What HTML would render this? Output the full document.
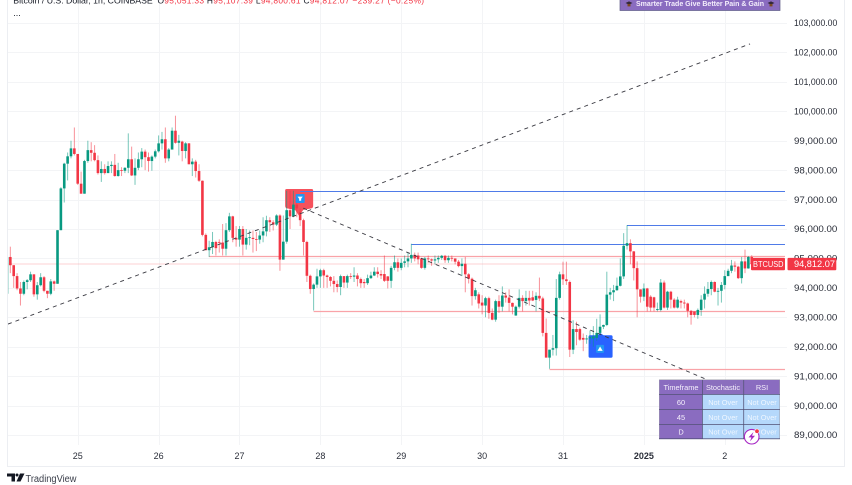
<!DOCTYPE html>
<html lang="en">
<head>
<meta charset="utf-8">
<title>BTCUSD chart</title>
<style>
html,body{margin:0;padding:0;background:#fff;width:852px;height:485px;overflow:hidden}
svg{display:block;font-family:"Liberation Sans",sans-serif}
</style>
</head>
<body>
<svg id="chart" width="852" height="485" viewBox="0 0 852 485" xmlns="http://www.w3.org/2000/svg">
<defs><clipPath id="pane-clip"><rect x="7.5" y="0" width="777.5" height="445"/></clipPath></defs>
<g id="grid"></g>
<g id="signals-under"></g>
<g id="levels" clip-path="url(#pane-clip)"></g>
<g id="candles" clip-path="url(#pane-clip)"></g>
<g id="trends" clip-path="url(#pane-clip)"></g>
<g id="signals-over"></g>
<g id="y-axis"></g>
<g id="x-axis"></g>

<line x1="7.5" y1="0" x2="7.5" y2="466" stroke="#eceef2"/>
<line x1="844.5" y1="0" x2="844.5" y2="466" stroke="#eceef2"/>
<line x1="7" y1="466.5" x2="845" y2="466.5" stroke="#eceef2"/>

<g font-size="8.4">
<text x="13.3" y="3.6" fill="#131722" textLength="139.4" lengthAdjust="spacingAndGlyphs">Bitcoin / U.S. Dollar, 1h, COINBASE</text>
<text x="157.5" y="3.6" fill="#f23645" textLength="266.5" lengthAdjust="spacing"><tspan fill="#131722">O</tspan>95,051.33  <tspan fill="#131722">H</tspan>95,107.39  <tspan fill="#131722">L</tspan>94,800.61  <tspan fill="#131722">C</tspan>94,812.07  −239.27 (−0.25%)</text>
<text x="13.3" y="16" fill="#131722" font-size="9">...</text>
</g>

<g>
<rect x="620" y="-2" width="160" height="12.5" fill="#8a6cc0" stroke="#5c5a85" stroke-width="0.7"/>
<polygon points="625.5,3 629,1.4 632.5,3 629,4.6" fill="#33283a"/>
<rect x="627.5" y="4" width="3" height="2.4" fill="#7b4a22"/>
<text x="700" y="6" text-anchor="middle" font-size="7.6" font-weight="bold" fill="#f4eefc" textLength="128" lengthAdjust="spacingAndGlyphs">Smarter Trade Give Better Pain &amp; Gain</text>
<polygon points="767.5,3 771,1.4 774.5,3 771,4.6" fill="#33283a"/>
<rect x="769.5" y="4" width="3" height="2.4" fill="#7b4a22"/>
</g>

<g font-size="7.4" text-anchor="middle">
<rect x="659" y="379.5" width="121" height="59.5" fill="#9e9eaa"/>
<rect x="659.5" y="380" width="42.5" height="14" fill="#8a6cc0"/>
<rect x="702.6" y="380" width="40.8" height="14" fill="#8a6cc0" fill-opacity="0.93"/>
<rect x="744" y="380" width="35.5" height="14" fill="#8a6cc0"/>
<rect x="659.5" y="394.6" width="42.5" height="14.4" fill="#8a6cc0"/>
<rect x="702.6" y="394.6" width="40.8" height="14.4" fill="#b5d8fb"/>
<rect x="744" y="394.6" width="35.5" height="14.4" fill="#b5d8fb"/>
<rect x="659.5" y="409.6" width="42.5" height="14.4" fill="#8a6cc0"/>
<rect x="702.6" y="409.6" width="40.8" height="14.4" fill="#b5d8fb"/>
<rect x="744" y="409.6" width="35.5" height="14.4" fill="#b5d8fb"/>
<rect x="659.5" y="424.6" width="42.5" height="14" fill="#8a6cc0"/>
<rect x="702.6" y="424.6" width="40.8" height="14" fill="#b5d8fb"/>
<rect x="744" y="424.6" width="35.5" height="14" fill="#b5d8fb"/>
<g fill="#4d4b73">
<rect x="702" y="380" width="0.7" height="59"/>
<rect x="743.4" y="380" width="0.7" height="59"/>
<rect x="659" y="394" width="121" height="0.7"/>
<rect x="659" y="409" width="121" height="0.7"/>
<rect x="659" y="424" width="121" height="0.7"/>
<rect x="659" y="438.4" width="121" height="0.8"/>
</g>
<g fill="#f5f0fc">
<text x="681" y="390">Timeframe</text>
<text x="723" y="390">Stochastic</text>
<text x="762" y="390">RSI</text>
<text x="681" y="405">60</text>
<text x="681" y="420">45</text>
<text x="681" y="434.5">D</text>
</g>
<g fill="#eef6ff">
<text x="723" y="405">Not Over</text>
<text x="762" y="405">Not Over</text>
<text x="723" y="420">Not Over</text>
<text x="762" y="420">Not Over</text>
<text x="723" y="434.5">Not Over</text>
<text x="762" y="434.5">Not Over</text>
</g>
</g>

<g>
<circle cx="751.7" cy="436.7" r="7.3" fill="#fff" stroke="#a626c4" stroke-width="1.1"/>
<polygon points="753.5,432 748.5,437.4 751.4,437.4 750,441.4 755,435.8 752,435.8" fill="#a626c4"/>
<circle cx="757" cy="431.2" r="2.2" fill="#f23645" stroke="#fff" stroke-width="0.6"/>
</g>

<g>
<polygon points="7,473.5 15,473.5 15,481.5 11.5,481.5 11.5,476.5 7,476.5" fill="#131722"/>
<circle cx="17" cy="475" r="1.5" fill="#131722"/>
<polygon points="20,473.5 24.5,473.5 20.5,481.5 16.5,481.5" fill="#131722"/>
<text x="25.5" y="482" font-size="10" fill="#3a3e4a" textLength="51" lengthAdjust="spacingAndGlyphs">TradingView</text>
</g>
</svg>

<script>
// Prices are in thousands of USD. Each line holds ten candles.
const opens=[
93.8,95.05,94.77,94.4,93.98,93.8,94.2,94.26,94.46,93.78,
94.09,94.36,93.9,93.8,94.22,94.14,95.96,97.38,98.22,98.47,
98.74,98.55,97.54,97.2,98.31,98.68,98.59,98.34,97.9,98.04,
97.9,98.14,98.18,97.8,98,97.98,98.08,98.37,97.82,98.08,
98.37,98.63,98.44,98.31,98.46,98.64,98.91,99.05,98.4,98.7,
99.34,98.93,98.97,98.65,98.91,98.2,98.29,97.97,97.64,95.8,
95.28,95.38,95.56,95.56,95.54,95.33,95.96,96.43,95.7,95.64,
96,95.47,95.7,95.7,95.66,95.64,95.78,95.92,96.3,96.23,
96.15,96.46,94.96,95.57,96.64,96.43,96.83,96.58,96.3,95.56,
94.41,93.96,94.11,94.39,94.6,94.42,94.37,94.24,94.13,94.03,
94.4,94.18,94.4,94.38,94.42,94.3,94.2,94.16,94.33,94.42,
94.55,94.47,94.47,94.39,94.24,94.68,94.87,94.68,94.85,94.9,
95,95.12,95.1,95,94.68,95,94.97,94.93,94.97,95.02,
95.09,94.94,95.02,95,94.89,94.74,94.82,94.46,94.31,93.72,
93.78,93.5,93.4,93.65,93.15,92.92,93.55,93.36,93.74,93.67,
93.49,93.06,93.36,93.66,93.55,93.66,93.68,93.59,93.73,93.64,
92.47,91.63,91.9,91.95,93.66,94.46,94.29,94.2,91.9,92.6,
92.6,92.3,92.25,92.28,92.28,92.3,92.47,92.68,92.74,93.77,
93.85,93.92,94.07,94.39,95.43,95.52,95.24,94.67,93.95,93.7,
93.98,93.7,93.68,93.25,93.25,94.18,93.33,93.87,93.6,93.33,
93.55,93.5,93.47,93.22,93.2,93.08,93.25,93.6,93.8,93.96,
94.2,93.87,93.9,94.1,94.4,94.58,94.76,94.72,94.33,94.9,
94.66,95.05];
const highs=[
95.05,95.4,94.77,94.5,94.2,94.25,94.3,94.55,94.46,94.2,
94.5,94.4,93.9,94.3,94.25,95.96,97.42,98.25,98.6,99,
99.45,98.55,97.95,98.35,99,98.95,98.85,98.5,98.3,98.2,
98.3,98.3,98.55,98.25,98.1,98.1,99.25,98.8,98.4,98.6,
98.75,98.7,98.6,98.5,98.7,99.18,99.3,99.45,98.75,99.45,
99.85,99.2,99,98.95,98.92,98.4,98.35,98.2,97.65,95.85,
95.6,95.9,95.6,95.65,96.17,96.2,96.55,96.45,96.1,96.1,
96.1,96,95.95,95.95,95.9,95.95,96.4,96.45,96.4,96.3,
96.5,96.5,96.46,97.3,97.3,97.3,96.9,96.7,96.35,95.6,
94.45,94.15,94.65,94.65,94.65,94.45,94.4,94.4,94.25,94.45,
94.4,94.45,94.5,94.7,94.5,94.35,94.3,94.45,94.55,94.7,
94.7,94.6,95.1,94.4,94.75,95.1,95,95,95.1,95.2,
95.5,95.2,95.2,95,95.05,95.1,95,95.1,95.1,95.12,
95.12,95.1,95.1,95,94.95,95,95.05,94.5,94.35,94,
93.85,93.75,93.7,93.7,93.3,93.6,93.75,94.05,93.85,93.95,
93.5,93.4,93.95,93.75,93.9,93.9,93.9,93.85,94.35,93.7,
92.96,91.9,92.4,94.3,94.55,94.89,94.89,94.25,92.9,92.85,
92.65,92.45,92.4,92.55,92.7,92.95,93.1,92.75,94.55,94,
94.1,94.35,95,95.86,96.13,95.65,95.25,94.9,93.95,94.15,
94,93.75,93.7,93.5,94.3,94.25,93.9,93.9,93.65,93.7,
93.6,93.6,93.5,93.25,93.2,93.3,93.75,94.05,94.2,94.25,
94.22,94,94.2,94.6,94.65,94.95,94.9,94.75,95.05,95.3,
95.08,95.11];
const lows=[
93.75,94.5,94,93.92,93.4,93.75,93.95,94.2,93.7,93.6,
94.05,93.85,93.65,93.75,93.9,94.14,95.96,96.9,97.65,98.4,
98.5,97.5,97.2,97.2,98.25,98.3,98.3,97.85,97.6,97.85,
97.9,97.9,97.78,97.78,97.8,97.9,97.9,97.8,97.5,98,
98.1,98,97.95,97.98,98.4,98.6,98.7,98.25,98.3,98.7,
98.9,98.5,98.3,98.4,98.2,97.8,97.75,97.6,95.75,95.28,
95.05,95.15,95.1,95.2,95.1,95.1,95.9,95.55,95.4,95.4,
95.1,95.3,95.45,95.2,95.25,95.5,95.55,95.75,95.9,95.95,
96.1,94.58,94.96,95.5,96,96.4,96.4,96.1,95.1,94.2,
93.8,93.23,94,94,94,94,94.05,93.85,93.85,93.75,
94,94,94.3,94.2,94.05,94,94,94.1,94.3,94.4,
94.35,94.3,94.2,93.98,94,94.6,94.55,94.6,94.7,94.7,
94.85,94.9,94.8,94.65,94.62,94.85,94.75,94.8,94.85,94.95,
94.85,94.85,94.9,94.8,94.7,94.4,93.85,94.15,93.4,93.6,
93.3,93.1,93,92.95,92.9,92.85,93.15,93.2,93.5,93.2,
93.1,93.05,93.3,93.2,93.4,93.4,93.55,93.2,93.55,92.35,
91.63,91.25,91.7,91.7,93.6,94.1,94.1,91.65,91.75,92.05,
92.2,91.85,92.1,92.1,92,92.2,92.4,92.6,92.7,93.6,
93.55,93.9,94.05,94.3,95.3,94.8,94.25,93,93.5,93.55,
93.2,93.2,93.2,93.2,93.2,93.3,93.25,93.3,93.3,93.3,
93.3,93.3,93,92.75,93,92.95,93.05,93.3,93.7,93.75,
93.85,93.4,93.5,93.95,94.4,94.5,94.55,94.3,94.15,94.5,
94.65,94.8];
const closes=[
95.05,94.77,94.4,93.98,93.8,94.2,94.26,94.46,93.78,94.09,
94.36,93.9,93.8,94.22,94.14,95.96,97.38,98.22,98.47,98.74,
98.55,97.54,97.2,98.31,98.68,98.59,98.34,97.9,98.04,97.9,
98.14,98.18,97.8,98,97.98,98.08,98.37,97.82,98.08,98.37,
98.63,98.44,98.31,98.46,98.64,98.91,99.05,98.4,98.7,99.34,
98.93,99,98.65,98.91,98.2,98.29,97.97,97.64,95.8,95.28,
95.38,95.56,95.35,95.54,95.33,95.96,96.43,95.7,95.64,96,
95.47,95.7,95.72,95.66,95.64,95.78,95.92,96.3,96.23,96.15,
96.46,94.96,95.57,96.64,96.43,96.83,96.7,96.3,95.56,94.41,
93.96,94.11,94.39,94.6,94.42,94.37,94.24,94.13,94.03,94.4,
94.18,94.4,94.38,94.42,94.3,94.16,94.16,94.33,94.42,94.55,
94.47,94.42,94.24,94.24,94.68,94.87,94.68,94.85,94.9,95,
95.12,95,94.97,94.68,95,94.97,94.93,94.97,95.02,95.09,
94.94,95.02,95,94.89,94.74,94.82,94.46,94.31,93.72,93.92,
93.47,93.4,93.65,93.15,92.92,93.55,93.36,93.74,93.67,93.49,
93.36,93.36,93.66,93.55,93.66,93.57,93.57,93.73,93.64,92.47,
91.63,91.9,91.95,93.66,94.46,94.29,94.23,91.9,92.6,92.5,
92.24,92.24,92.28,92.33,92.35,92.47,92.68,92.74,93.77,93.85,
93.92,94.07,94.39,95.43,95.52,95.24,94.67,93.95,93.7,93.98,
93.36,93.33,93.33,93.28,94.18,93.33,93.87,93.6,93.33,93.6,
93.5,93.47,93.22,93.08,93.08,93.25,93.6,93.8,93.96,94.2,
93.87,93.9,94.1,94.4,94.58,94.76,94.72,94.33,94.9,94.66,
95.05,94.81];

const priceTicks=[103,102,101,100,99,98,97,96,95,94,93,92,91,90,89];
const dayLabels=["25","26","27","28","29","30","31","2025","2"];
const dayIndexes=[21,45,69,93,117,141,165,189,213];

const blueLevelPrices=[97.3,95.5,96.12];
const blueLevelStarts=[87,120,184];
const redLevelPrices=[95.09,93.23,91.25];
const redLevelStarts=[60,91,161];

const trendStartIndexes=[0.3,87.9];
const trendStartPrices=[92.77,96.71];
const trendEndIndexes=[220.5,217];
const trendEndPrices=[102.29,90.43];

const sellSignalIndex=87;
const sellSignalPrice=97.36;
const buySignalIndex=176;
const buySignalPrice=92.47;
const lastLabel="BTCUSD";

const NS="http://www.w3.org/2000/svg";
const PANE_RIGHT=785, PANE_LEFT=7.5, PANE_BOTTOM=445;
function xScale(i){return 6.96+3.37*i;}
function yScale(p){return 23+(103-p)*29.43;}
function make(parent,tag,attrs){
  const el=document.createElementNS(NS,tag);
  for(const k in attrs) el.setAttribute(k,attrs[k]);
  parent.appendChild(el);
  return el;
}
const GREEN="#089981", RED="#f23645";

const grid=document.getElementById("grid");
const yAxis=document.getElementById("y-axis");
priceTicks.forEach(function(t){
  const y=Math.round(yScale(t))+0.5;
  const g=make(grid,"line",{x1:PANE_LEFT,y1:y,x2:PANE_RIGHT+2,y2:y,stroke:"#f3f4f6"});
  
  
  const label=make(yAxis,"text",{x:794,y:yScale(t)+3.2,"font-size":9,fill:"#2a2e39",textLength:43.3,lengthAdjust:"spacingAndGlyphs"});
  
  
  label.textContent=(t*1000).toLocaleString("en-US",{minimumFractionDigits:2,maximumFractionDigits:2});
});
const xAxis=document.getElementById("x-axis");
dayIndexes.forEach(function(d,k){
  const x=Math.round(xScale(d))+0.5;
  const g=make(grid,"line",{x1:x,y1:0,x2:x,y2:PANE_BOTTOM,stroke:"#f3f4f6"});
  
  
  const label=make(xAxis,"text",{x:xScale(d),y:459,"font-size":9,"text-anchor":"middle",fill:"#2a2e39","font-weight":dayLabels[k]==="2025"?"bold":"normal"});
  
  
  label.textContent=dayLabels[k];
});

// Signal label shapes sit beneath the candles.
const under=document.getElementById("signals-under");
const sx=xScale(sellSignalIndex), sy=yScale(sellSignalPrice);
const sellShape=make(under,"path",{d:"M"+(sx-11.5)+" "+sy+"h23a1.5 1.5 0 0 1 1.5 1.5v15.5q0 2-2 2.4l-8 1.6l-4 6l-4-6l-8-1.6q-2-.4-2-2.4v-15.5a1.5 1.5 0 0 1 1.5-1.5z",fill:"#f6515c"});


const bx=xScale(buySignalIndex), by=yScale(buySignalPrice);
const buyShape=make(under,"path",{d:"M"+bx+" "+by+"l3.5 2.4h7.5a1.5 1.5 0 0 1 1.5 1.5v19.5a1.5 1.5 0 0 1-1.5 1.5h-21a1.5 1.5 0 0 1-1.5-1.5v-19.5a1.5 1.5 0 0 1 1.5-1.5h7.5z",fill:"#2962ff"});



// Horizontal levels.
const levels=document.getElementById("levels");
blueLevelPrices.forEach(function(p,k){
  const y=Math.round(yScale(p))+0.5;
  const l=make(levels,"line",{x1:xScale(blueLevelStarts[k]),y1:y,x2:PANE_RIGHT,y2:y,stroke:"#4f7be8","stroke-width":1});
  
  
});
redLevelPrices.forEach(function(p,k){
  const y=Math.round(yScale(p))+0.5;
  const l=make(levels,"line",{x1:xScale(redLevelStarts[k]),y1:y,x2:PANE_RIGHT,y2:y,stroke:"#f9a3a8","stroke-width":1.3});
  
  
});
const lastClose=closes[closes.length-1];
const lastY=yScale(lastClose);
const priceLine=make(levels,"line",{x1:PANE_LEFT,y1:lastY,x2:PANE_RIGHT,y2:lastY,stroke:"#f9a3a8","stroke-width":1,"stroke-dasharray":"1 1"});



// Candles.
const candles=document.getElementById("candles");
opens.forEach(function(o,i){
  const c=closes[i], up=c>=o, col=up?GREEN:RED, x=xScale(i);
  const wick=make(candles,"line",{x1:x,y1:yScale(highs[i]),x2:x,y2:yScale(lows[i]),stroke:col,"stroke-width":1,"stroke-opacity":0.55});
  
  
  const top=yScale(Math.max(o,c)), bot=yScale(Math.min(o,c));
  const body=make(candles,"rect",{x:x-1.3,y:top,width:2.6,height:Math.max(bot-top,0.8),fill:col});
  
  
});

// Trend lines.
const trends=document.getElementById("trends");
trendStartIndexes.forEach(function(si,k){
  const l=make(trends,"line",{x1:xScale(si),y1:yScale(trendStartPrices[k]),x2:xScale(trendEndIndexes[k]),y2:yScale(trendEndPrices[k]),stroke:"#3a3a42","stroke-width":0.9,"stroke-dasharray":"4 4"});
  
  
});

// Signal icons.
const over=document.getElementById("signals-over");
const sellIcon=make(over,"rect",{x:sx-4.5,y:sy+5,width:9,height:9,rx:1,fill:"#2196f3"});


const sellArrow=make(over,"path",{d:"M"+(sx-2.6)+" "+(sy+7.6)+"h5.2l-1.6 2.2v2h-2v-2z",fill:"#fff"});


const buyIcon=make(over,"rect",{x:bx-4,y:by+12,width:8,height:8,rx:1,fill:"#2196f3"});


const buyArrow=make(over,"path",{d:"M"+bx+" "+(by+13.6)+"l2.6 4.4h-5.2z",fill:"#fff"});



// Last price tags.
const tagBox=make(yAxis,"rect",{x:751,y:lastY-6.2,width:34,height:12.4,rx:1,fill:RED});


const tagText=make(yAxis,"text",{x:753,y:lastY+3.1,"font-size":8.4,fill:"#fff",textLength:30.5,lengthAdjust:"spacingAndGlyphs"});


tagText.textContent=lastLabel;
const priceBox=make(yAxis,"rect",{x:787.5,y:lastY-6.2,width:48.8,height:12.4,rx:1,fill:RED});


const priceText=make(yAxis,"text",{x:794,y:lastY+3.2,"font-size":9,fill:"#fff",textLength:41,lengthAdjust:"spacingAndGlyphs"});


priceText.textContent="94,812.07";
</script>
</body>
</html>
